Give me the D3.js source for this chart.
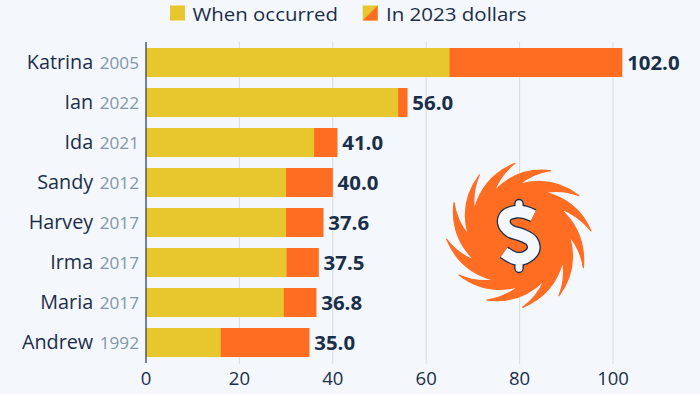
<!DOCTYPE html>
<html><head><meta charset="utf-8">
<script src="https://cdnjs.cloudflare.com/ajax/libs/d3/7.8.5/d3.min.js"></script>
<style>html,body{margin:0;padding:0;background:#f4f7fb}svg{display:block}text{font-family:"Open Sans",sans-serif}</style>
</head><body><svg id="c" width="700" height="394"></svg>
<script>
const storms = ["Katrina","Ian","Ida","Sandy","Harvey","Irma","Maria","Andrew"];
const years = ["2005","2022","2021","2012","2017","2017","2017","1992"];
const whenOccurred = [65,54,36,30,30,30.1,29.5,16];
const in2023Dollars = [102,56,41,40,38,37,36.5,35];
const valueLabels = ["102.0","56.0","41.0","40.0","37.6","37.5","36.8","35.0"];
const xTicks = [0,20,40,60,80,100];
const legendLabels = ["When occurred","In 2023 dollars"];

const YEL="#e8c62e",ORG="#ff6d23",INK="#1a2e4a",GREY="#8297a8",BG="#f4f7fb";
const svg=d3.select("#c");
const x=d3.scaleLinear().domain([0,100]).range([146,613]);
const y=d3.scaleBand().domain(storms).range([42.5,362.5]).paddingInner(0.275).paddingOuter(0.1375);

// grid
svg.append("g").selectAll("line").data(xTicks.slice(1)).join("line")
  .attr("x1",d=>x(d)).attr("x2",d=>x(d)).attr("y1",42).attr("y2",364)
  .attr("stroke","#d5dbe2").attr("stroke-width",1);

// bars
const row=svg.append("g").selectAll("g").data(storms).join("g");
row.append("rect").attr("x",x(0)).attr("y",d=>y(d)).attr("height",y.bandwidth())
  .attr("width",(d,i)=>x(in2023Dollars[i])-x(0)).attr("fill",ORG);
row.append("rect").attr("x",x(0)).attr("y",d=>y(d)).attr("height",y.bandwidth())
  .attr("width",(d,i)=>x(whenOccurred[i])-x(0)).attr("fill",YEL);
row.append("text").attr("x",(d,i)=>x(in2023Dollars[i])+4.8).attr("y",d=>y(d)+y.bandwidth()/2+7)
  .attr("font-size",20.4).attr("font-weight",700).attr("fill",INK).text((d,i)=>valueLabels[i]);
const lab=row.append("text").attr("x",139).attr("y",d=>y(d)+y.bandwidth()/2+6.5).attr("text-anchor","end");
lab.append("tspan").attr("font-size",19.8).attr("fill",INK).text(d=>d);
lab.append("tspan").attr("font-size",17.2).attr("fill",GREY).attr("dx",6.5).text((d,i)=>years[i]);

// axis
svg.append("line").attr("x1",x(0)).attr("x2",x(0)).attr("y1",42).attr("y2",363).attr("stroke","#3d5068").attr("stroke-width",1.4);
svg.append("g").selectAll("text").data(xTicks).join("text")
  .attr("x",d=>x(d)).attr("y",384.5).attr("text-anchor","middle").attr("font-size",18.5).attr("fill",INK).text(d=>d);

// legend
const lg=svg.append("g");
lg.append("rect").attr("x",170).attr("y",5.5).attr("width",15).attr("height",15).attr("fill",YEL);
lg.append("text").attr("x",192.5).attr("y",20.5).attr("font-size",19).attr("textLength",145.5).attr("lengthAdjust","spacingAndGlyphs").attr("fill",INK).text(legendLabels[0]);
lg.append("rect").attr("x",362.7).attr("y",5.5).attr("width",15).attr("height",15).attr("fill",YEL);
lg.append("path").attr("d","M377.7,5.5V20.5H362.7Z").attr("fill",ORG);
lg.append("text").attr("x",386).attr("y",20.5).attr("font-size",19).attr("textLength",140.5).attr("lengthAdjust","spacingAndGlyphs").attr("fill",INK).text(legendLabels[1]);

// hurricane icon (decoration)
const cx=518.5,cy=235;
const tips=[[255,40],[362,62],[447,137],[483,243],[460,353],[387,437],[278,472],[170,450],[87,375],[50,268],[72,158],[148,75]];
const valleys=[[193,123],[268,103],[345,127],[390,175],[418,258],[398,335],[343,390],[265,410],[190,390],[135,332],[115,255],[133,178]];
const P=p=>[430+p[0]/3,150+p[1]/3];
function ctrl(a,b,k){
  const mx=(a[0]+b[0])/2,my=(a[1]+b[1])/2;
  let nx=-(b[1]-a[1]),ny=b[0]-a[0];
  if(nx*(mx-cx)+ny*(my-cy)<0){nx=-nx;ny=-ny;}
  return [mx+nx*k,my+ny*k];
}
const dp=d3.path();
tips.forEach((t,i)=>{
  const prev=P(valleys[(i+11)%12]),tip=P(t),next=P(valleys[i]);
  if(i===0)dp.moveTo(prev[0],prev[1]);
  const c1=ctrl(prev,tip,0.25),c2=ctrl(tip,next,0.14);
  dp.quadraticCurveTo(c1[0],c1[1],tip[0],tip[1]);
  dp.quadraticCurveTo(c2[0],c2[1],next[0],next[1]);
});
dp.closePath();
svg.append("path").attr("d",dp.toString()).attr("fill",ORG).attr("stroke",ORG).attr("stroke-width",1.2).attr("stroke-linejoin","round");

// dollar glyph of the icon, drawn as outlined strokes
const Z=p=>[490+p[0]/3,195+p[1]/3];
const sLine=[[130,62],[105,52],[78,50],[48,62],[42,85],[60,108],[95,120],[125,138],[130,165],[105,188],[75,190],[42,172]].map(Z);
const sGen=d3.line().curve(d3.curveCatmullRom.alpha(.5));
const stems=[[[87,26],[87,50]],[[87,192],[87,220]]].map(a=>a.map(Z));
const dollar=svg.append("g").attr("fill","none");
[[INK,2.6],[BG,0]].forEach(([c,extra])=>{
  stems.forEach(s=>dollar.append("path").attr("d",d3.line()(s)).attr("stroke",c).attr("stroke-width",7+extra).attr("stroke-linecap","round"));
  dollar.append("path").attr("d",sGen(sLine)).attr("stroke",c).attr("stroke-width",11.5+extra).attr("stroke-linecap","butt").attr("stroke-linejoin","round");
});
</script></body></html>
